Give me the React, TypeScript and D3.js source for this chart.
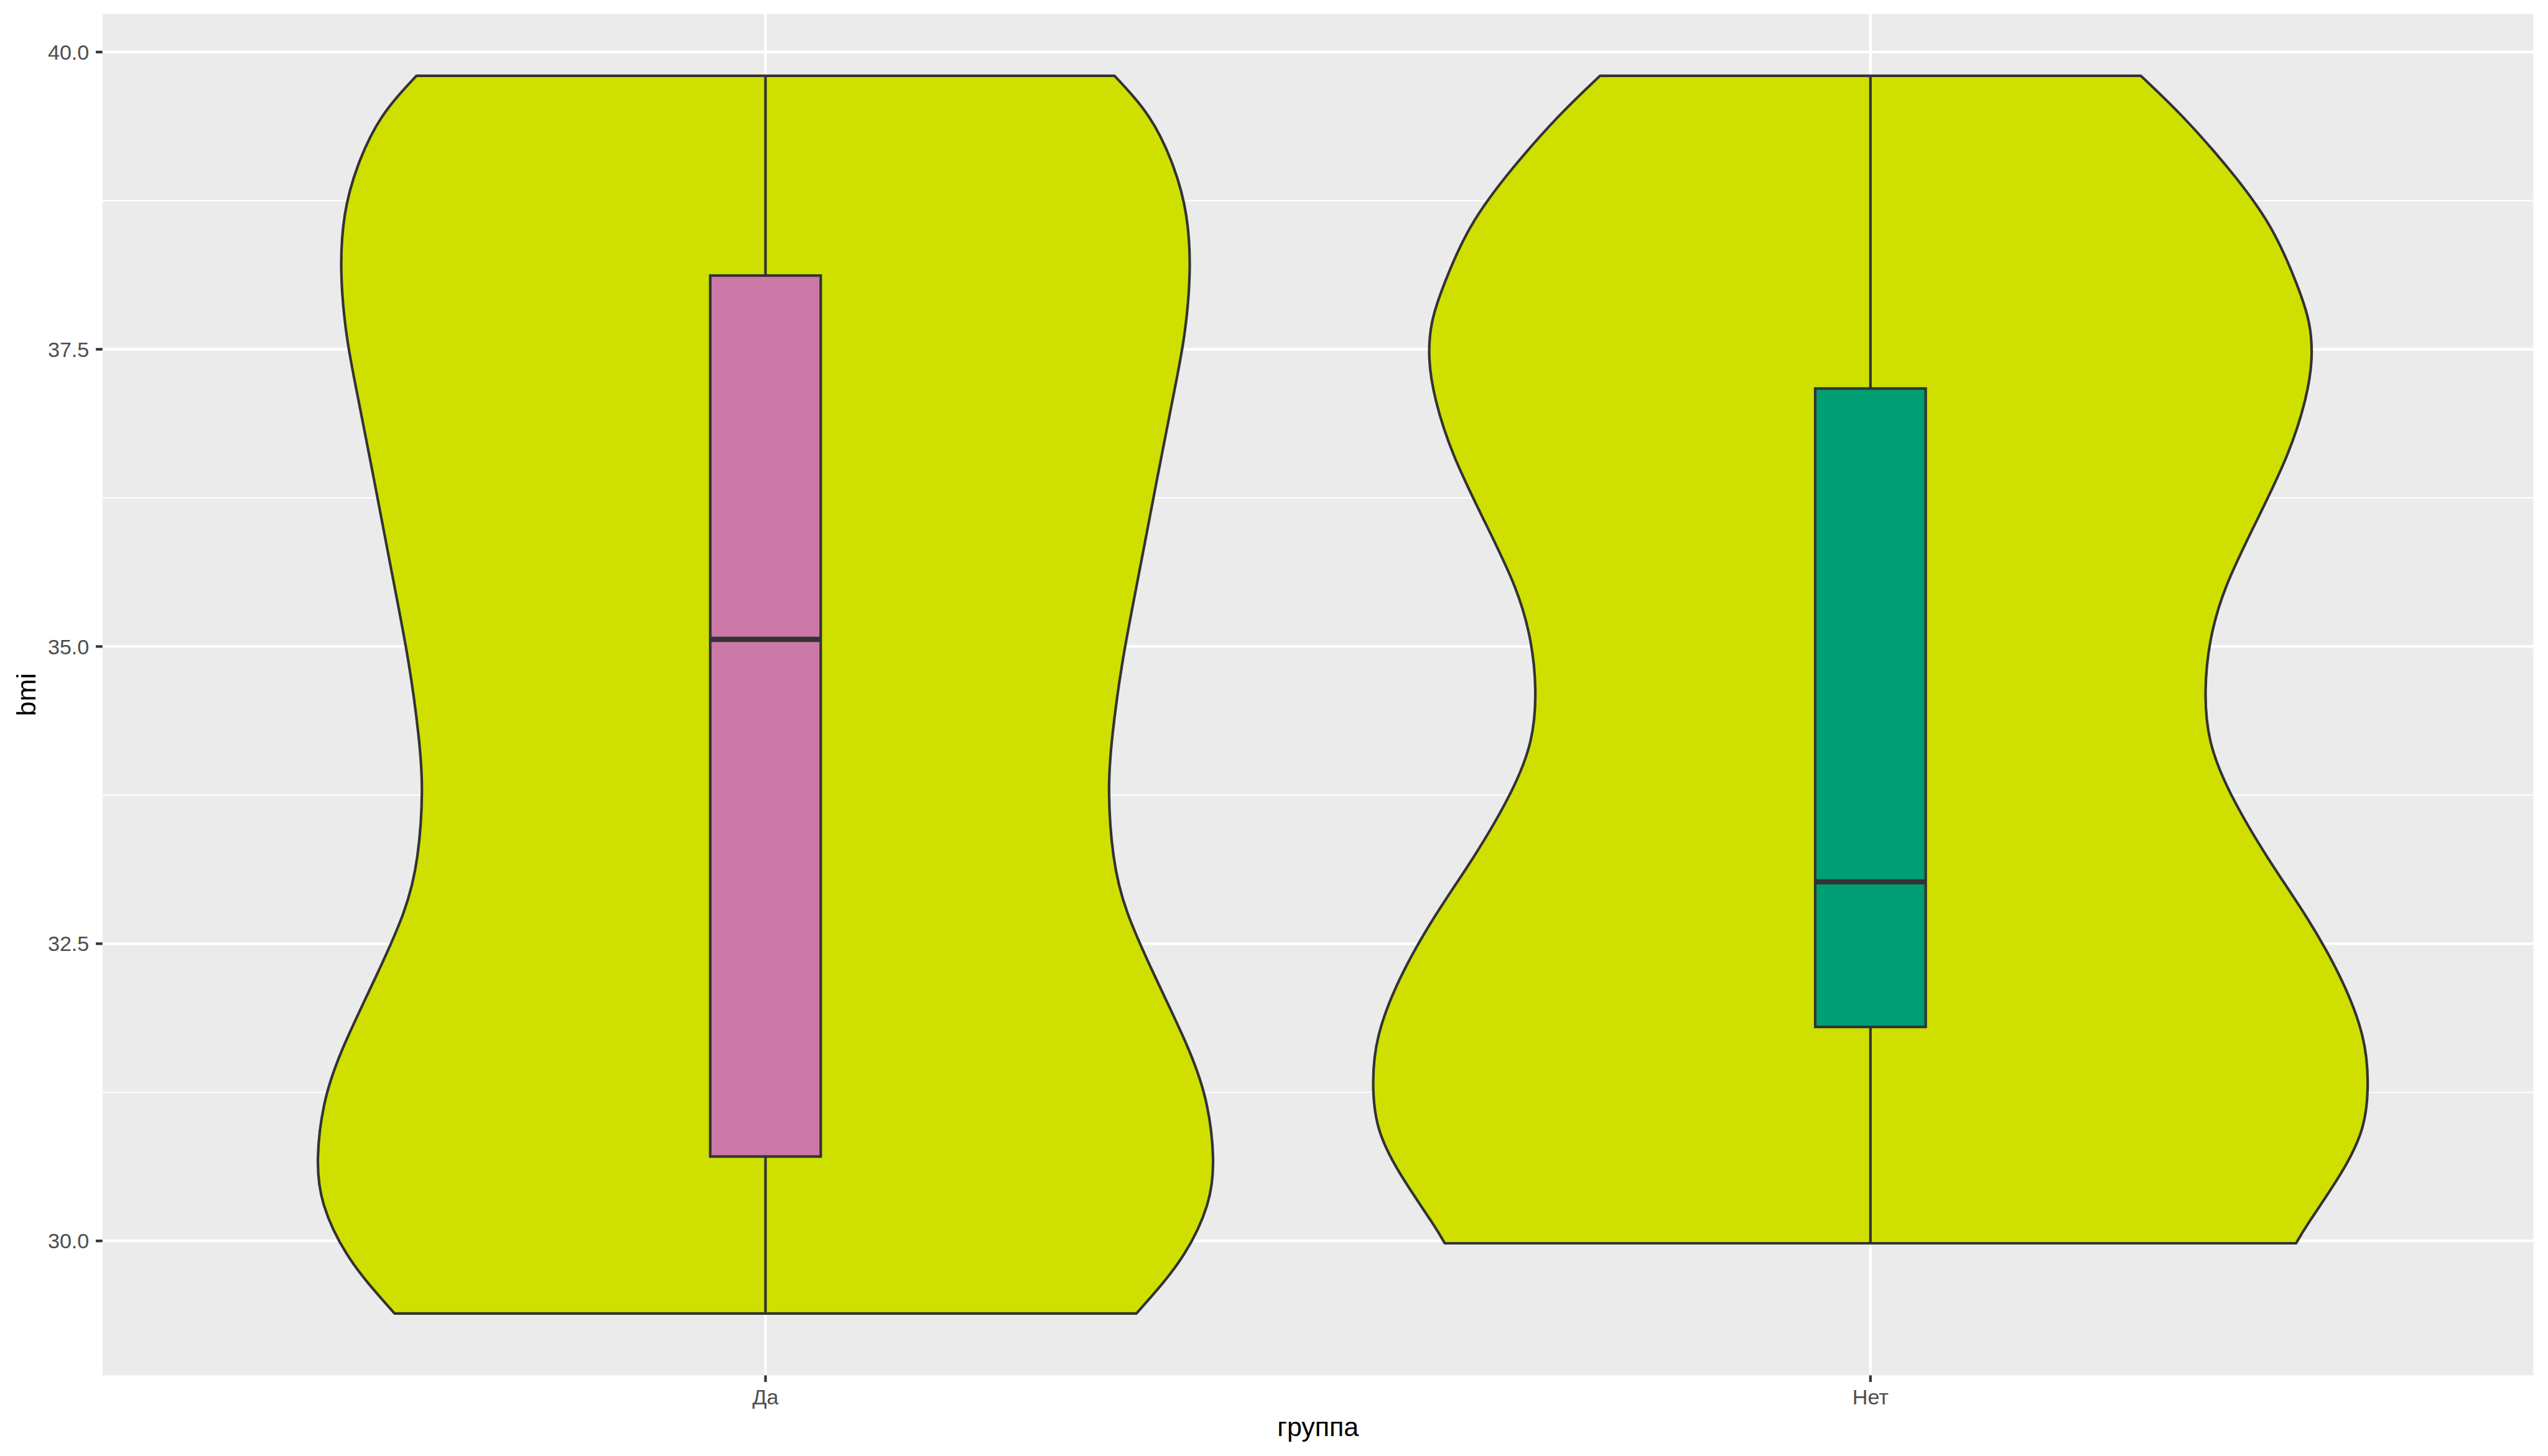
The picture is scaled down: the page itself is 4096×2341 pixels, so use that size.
import React from "react";
import * as d3 from "d3";

// ---- data ----
const categories = ["Да", "Нет"];
const boxFills = ["#CC79A7", "#009E73"];
const violinFill = "#CFE000";

// violin outlines: bmi positions and relative half-widths (1 = widest violin)
const daBmi = [29.39, 29.58, 29.89, 30.3, 30.71, 31.19, 31.66, 32.21, 32.76, 33.24, 33.78, 34.26, 34.87, 35.59, 36.31, 37.06, 37.61, 38.15, 38.63, 39.04, 39.45, 39.8];
const daWidth = [0.746, 0.786, 0.842, 0.888, 0.9, 0.885, 0.846, 0.785, 0.728, 0.7, 0.691, 0.698, 0.718, 0.75, 0.783, 0.818, 0.842, 0.853, 0.846, 0.82, 0.772, 0.702];
const netBmi = [29.98, 30.17, 30.56, 30.95, 31.34, 31.73, 32.19, 32.71, 33.23, 33.75, 34.2, 34.63, 35.05, 35.51, 36.06, 36.61, 37.07, 37.42, 37.72, 38.04, 38.53, 39.02, 39.46, 39.8];
const netWidth = [0.856, 0.884, 0.945, 0.989, 1.0, 0.989, 0.948, 0.879, 0.798, 0.726, 0.684, 0.674, 0.684, 0.716, 0.777, 0.838, 0.874, 0.887, 0.882, 0.858, 0.804, 0.72, 0.627, 0.544];

// box statistics per category
const whiskerLow = [29.39, 29.98];
const q1 = [30.71, 31.8];
const medians = [35.06, 33.02];
const q3 = [38.12, 37.17];
const whiskerHigh = [39.8, 39.8];

const yTicks = [30, 32.5, 35, 37.5, 40];
const yMinor = [31.25, 33.75, 36.25, 38.75];
const xTitle = "группа";
const yTitle = "bmi";

// ---- layout (reference pixel units, scaled by 0.975) ----
const S = 0.975;
const W = 4200;
const H = 2400;
const panel = { left: 169, right: 4177, top: 23, bottom: 2268 };
const LW = 4.3;
const dark = "#333333";

export default function App() {
  const allB = [...daBmi, ...netBmi];
  const lo = d3.min(allB) as number;
  const hi = d3.max(allB) as number;
  const pad = (hi - lo) * 0.05;
  const y = d3.scaleLinear().domain([lo - pad, hi + pad]).range([panel.bottom, panel.top]);
  const x = d3.scalePoint<string>().domain(categories).range([panel.left, panel.right]).padding(0.6);
  const step = x.step();
  const maxHalf = 0.45 * step;
  const boxHalf = 0.05 * step;
  const fmt = d3.format(".1f");

  const series = [
    { b: daBmi, w: daWidth },
    { b: netBmi, w: netWidth },
  ];

  const line = d3
    .line<[number, number]>()
    .x((d) => d[0])
    .y((d) => d[1])
    .curve(d3.curveNatural);

  const violinPath = (i: number) => {
    const cx = x(categories[i]) as number;
    const { b, w } = series[i];
    const left: [number, number][] = b.map((v, k) => [cx - w[k] * maxHalf, y(v)]);
    const right: [number, number][] = b.map((v, k) => [cx + w[k] * maxHalf, y(v)] as [number, number]).reverse();
    const lp = line(left) as string;
    const rp = (line(right) as string).replace(/^M/, "L");
    return lp + rp + "Z";
  };

  return (
    <svg
      width={4096}
      height={2341}
      style={{ position: "fixed", left: 0, top: 0, background: "#FFFFFF" }}
      fontFamily="'Liberation Sans', Arial, sans-serif"
    >
      <g transform={`scale(${S})`}>
        <rect x={0} y={0} width={W} height={H} fill="#FFFFFF" />
        <rect
          x={panel.left}
          y={panel.top}
          width={panel.right - panel.left}
          height={panel.bottom - panel.top}
          fill="#EBEBEB"
        />
        {yMinor.map((t) => (
          <line key={"mn" + t} x1={panel.left} x2={panel.right} y1={y(t)} y2={y(t)} stroke="#FFFFFF" strokeWidth={LW / 2} />
        ))}
        {yTicks.map((t) => (
          <line key={"mj" + t} x1={panel.left} x2={panel.right} y1={y(t)} y2={y(t)} stroke="#FFFFFF" strokeWidth={LW} />
        ))}
        {categories.map((c) => (
          <line key={"vx" + c} x1={x(c)} x2={x(c)} y1={panel.top} y2={panel.bottom} stroke="#FFFFFF" strokeWidth={LW} />
        ))}

        {categories.map((c, i) => (
          <path key={"v" + c} d={violinPath(i)} fill={violinFill} stroke={dark} strokeWidth={LW} strokeLinejoin="round" />
        ))}

        {categories.map((c, i) => {
          const cx = x(c) as number;
          return (
            <g key={"b" + c}>
              <line x1={cx} x2={cx} y1={y(q3[i])} y2={y(whiskerHigh[i])} stroke={dark} strokeWidth={LW} />
              <line x1={cx} x2={cx} y1={y(q1[i])} y2={y(whiskerLow[i])} stroke={dark} strokeWidth={LW} />
              <rect
                x={cx - boxHalf}
                y={y(q3[i])}
                width={boxHalf * 2}
                height={y(q1[i]) - y(q3[i])}
                fill={boxFills[i]}
                stroke={dark}
                strokeWidth={LW}
              />
              <line x1={cx - boxHalf} x2={cx + boxHalf} y1={y(medians[i])} y2={y(medians[i])} stroke={dark} strokeWidth={LW * 2} />
            </g>
          );
        })}

        {/* y axis */}
        {yTicks.map((t) => (
          <g key={"yt" + t}>
            <line x1={panel.left - 11} x2={panel.left} y1={y(t)} y2={y(t)} stroke={dark} strokeWidth={LW} />
            <text x={panel.left - 22} y={y(t)} dy="0.355em" textAnchor="end" fontSize={35} fill="#4D4D4D">
              {fmt(t)}
            </text>
          </g>
        ))}
        {/* x axis */}
        {categories.map((c) => (
          <g key={"xt" + c}>
            <line x1={x(c)} x2={x(c)} y1={panel.bottom} y2={panel.bottom + 11} stroke={dark} strokeWidth={LW} />
            <text x={x(c)} y={2316} textAnchor="middle" fontSize={35} fill="#4D4D4D">
              {c}
            </text>
          </g>
        ))}
        <text x={(panel.left + panel.right) / 2} y={2368} textAnchor="middle" fontSize={44} fill="#000000">
          {xTitle}
        </text>
        <text
          transform={`translate(58, ${(panel.top + panel.bottom) / 2}) rotate(-90)`}
          textAnchor="middle"
          fontSize={44}
          fill="#000000"
        >
          {yTitle}
        </text>
      </g>
    </svg>
  );
}
